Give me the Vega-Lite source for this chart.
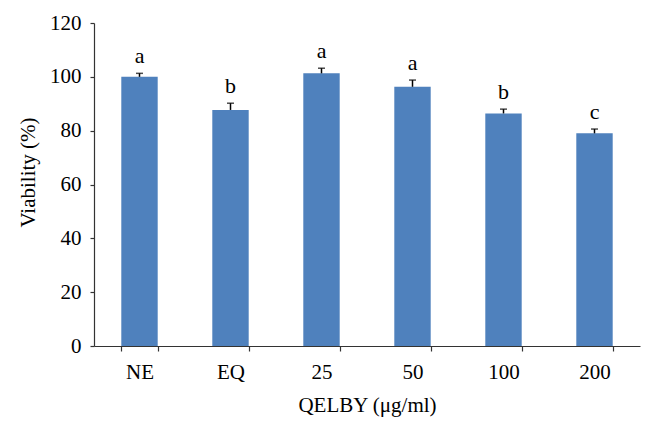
{
  "$schema": "https://vega.github.io/schema/vega-lite/v6.json",
  "autosize": {"type": "none"},
  "padding": {"left": 94, "top": 23, "right": 14, "bottom": 83},
  "width": 546,
  "height": 323,
  "background": "white",
  "config": {
    "view": {"stroke": null},
    "font": "Liberation Serif",
    "axis": {"grid": false, "domainColor": "#333333", "tickColor": "#333333", "labelColor": "#000000", "titleColor": "#000000", "labelFont": "Liberation Serif", "titleFont": "Liberation Serif", "labelFontSize": 21, "titleFontSize": 21, "titleFontWeight": "normal", "domainWidth": 1.2, "tickWidth": 1.2}
  },
  "data": {
    "values": [
      {"group": "NE", "viability": 100.0, "upper": 101.3, "sig": "a"},
      {"group": "EQ", "viability": 87.7, "upper": 90.2, "sig": "b"},
      {"group": "25", "viability": 101.3, "upper": 103.2, "sig": "a"},
      {"group": "50", "viability": 96.3, "upper": 98.8, "sig": "a"},
      {"group": "100", "viability": 86.4, "upper": 88.0, "sig": "b"},
      {"group": "200", "viability": 79.0, "upper": 80.6, "sig": "c"}
    ]
  },
  "encoding": {
    "x": {
      "field": "group", "type": "nominal", "sort": null,
      "scale": {"paddingInner": 0.6, "paddingOuter": 0.3},
      "axis": {"title": "QELBY (μg/ml)", "labelAngle": 0, "tickBand": "extent", "tickSize": 5, "labelBaseline": "alphabetic", "labelPadding": 27, "titleY": 65, "titleBaseline": "alphabetic"}
    }
  },
  "layer": [
    {
      "mark": {"type": "bar", "color": "#4F81BD"},
      "encoding": {
        "y": {"field": "viability", "type": "quantitative", "scale": {"domain": [0, 120], "nice": false}, "axis": {"title": "Viability (%)", "values": [0, 20, 40, 60, 80, 100, 120], "tickSize": 4, "labelPadding": 9, "titleX": -66, "titleY": 149, "titleBaseline": "middle", "titleAlign": "center", "titleAngle": -90}}
      }
    },
    {
      "mark": {"type": "rule", "color": "#000000", "strokeWidth": 1.5},
      "encoding": {
        "y": {"field": "viability", "type": "quantitative"},
        "y2": {"field": "upper"}
      }
    },
    {
      "mark": {"type": "tick", "color": "#000000", "size": 7, "thickness": 1.5},
      "encoding": {
        "y": {"field": "upper", "type": "quantitative"}
      }
    },
    {
      "mark": {"type": "text", "font": "Liberation Serif", "fontSize": 22, "color": "#000000", "baseline": "alphabetic", "dy": -10},
      "encoding": {
        "y": {"field": "upper", "type": "quantitative"},
        "text": {"field": "sig"}
      }
    }
  ]
}
